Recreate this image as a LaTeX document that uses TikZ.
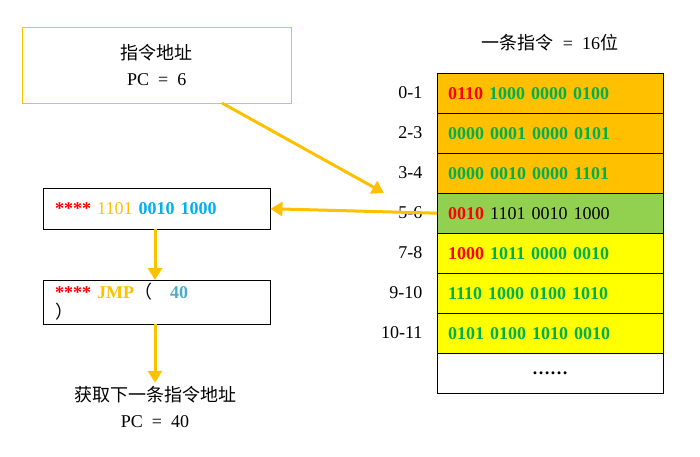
\documentclass[tikz,border=0pt]{standalone}
\usepackage{fontspec}
\setmainfont{Liberation Serif}
\newfontfamily\cjk{Noto Sans CJK SC}
\usetikzlibrary{arrows.meta}
\definecolor{org}{HTML}{FFC000}
\definecolor{grn}{HTML}{92D050}
\definecolor{ylw}{HTML}{FFFF00}
\definecolor{tg}{HTML}{00B050}
\definecolor{tr}{HTML}{FF0000}
\definecolor{tb}{HTML}{00B0F0}
\definecolor{tl}{HTML}{4BACC6}
\newcommand{\fs}{\fontsize{18}{20}\selectfont\setlength{\spaceskip}{9pt}}
\newcommand{\fsb}{\fontsize{18}{26}\selectfont\setlength{\spaceskip}{9pt}}
\begin{document}
\begin{tikzpicture}[x=1pt,y=-1pt,
  cell/.style={draw=black,minimum width=226pt,minimum height=40pt,anchor=north west,inner xsep=11pt,text width=204pt,align=left,font=\fs\bfseries},
  lab/.style={anchor=east,font=\fs},
  arr/.style={draw=org,line width=3pt,-{Triangle[length=12pt,width=14pt]}},
  box/.style={draw=black,minimum width=227pt,minimum height=41pt,anchor=north west,inner xsep=12pt,text width=203pt,align=left,font=\fs}]
\useasboundingbox (0,0) rectangle (700,456);
\node[draw=org,minimum width=269pt,minimum height=76pt,anchor=north west,inner sep=0pt,align=center,font=\fsb] (top) at (22,27) {{\cjk 指令地址}\\PC = 6};
\node[font=\fs] (title) at (550,43) {{\cjk 一条指令} = 16{\cjk 位}};
\node[cell,fill=org] (r0) at (437,73) {\textcolor{tr}{0110} \textcolor{tg}{1000 0000 0100}};
\node[cell,fill=org] (r1) at (437,113) {\textcolor{tg}{0000 0001 0000 0101}};
\node[cell,fill=org] (r2) at (437,153) {\textcolor{tg}{0000 0010 0000 1101}};
\node[cell,fill=grn] (r3) at (437,193) {\textcolor{tr}{0010} \mdseries 1101 0010 1000};
\node[cell,fill=ylw] (r4) at (437,233) {\textcolor{tr}{1000} \textcolor{tg}{1011 0000 0010}};
\node[cell,fill=ylw] (r5) at (437,273) {\textcolor{tg}{1110 1000 0100 1010}};
\node[cell,fill=ylw] (r6) at (437,313) {\textcolor{tg}{0101 0100 1010 0010}};
\node[cell,fill=white,align=center] (r7) at (437,353) {……};
\node[lab] (l0) at (426,93) {0-1};
\node[lab] (l1) at (426,133) {2-3};
\node[lab] (l2) at (426,173) {3-4};
\node[lab] (l3) at (426,213) {5-6};
\node[lab] (l4) at (426,253) {7-8};
\node[lab] (l5) at (426,293) {9-10};
\node[lab] (l6) at (426,333) {10-11};
\node[box] (b1) at (43,188) {\textcolor{tr}{\bfseries ****} \textcolor{org}{1101} \textcolor{tb}{\bfseries 0010 1000}};
\node[box] (b2) at (43,280) {\textcolor{tr}{\bfseries ****} \textcolor{org}{\bfseries JMP}{\cjk （}\quad\textcolor{tl}{\bfseries 40}\qquad\quad{\cjk ）}};
\node[align=center,font=\fsb] (nx) at (155,407) {{\cjk 获取下一条指令地址}\\PC = 40};
\coordinate (s1) at (222,103);
\coordinate (e1) at (384,193);
\draw[arr] (s1) -- (e1);
\draw[arr] (r3.west) -- (b1.east);
\draw[arr] (b1.south -| 155,0) -- (b2.north -| 155,0);
\draw[arr] (b2.south -| 155,0) -- (nx.north -| 155,0);
\end{tikzpicture}
\end{document}
